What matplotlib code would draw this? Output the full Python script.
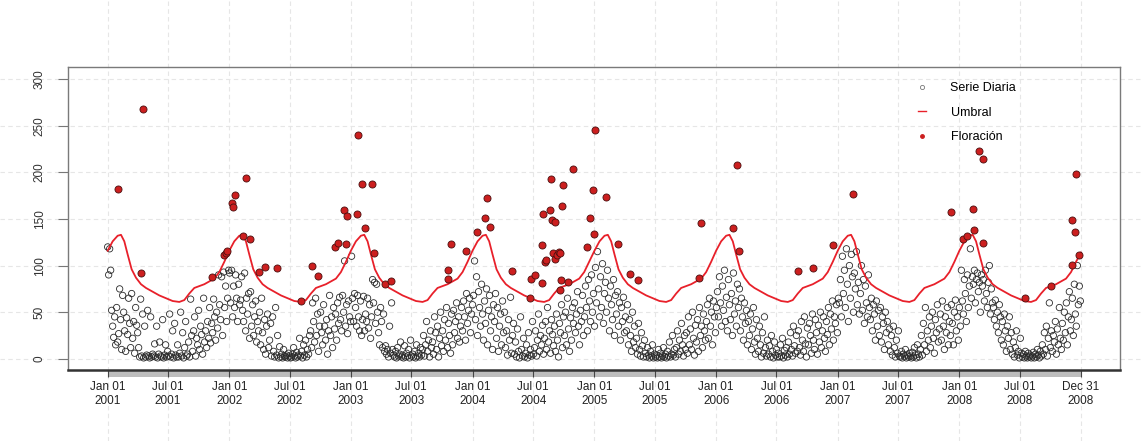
import matplotlib
matplotlib.use('Agg')
import matplotlib.pyplot as plt
import matplotlib.dates as mdates
import matplotlib.transforms as mtransforms
from matplotlib.lines import Line2D
from matplotlib.patches import Rectangle
import pandas as pd

plt.rcParams['font.family'] = ['Liberation Sans', 'DejaVu Sans']

# serie diaria, un valor cada 3 dias (leido a ojo del grafico)
serie_2001 = [120, 90, 118, 95, 52, 35, 23, 45, 15, 55, 18,
              27, 75, 42, 10, 68, 50, 30, 8, 44, 26,
              65, 38, 12, 70, 22, 40, 6, 55, 36, 28,
              12, 2, 64, 3, 48, 1, 35, 2, 4, 52,
              3, 1, 45, 2, 5, 3, 16, 2, 35, 1,
              5, 18, 3, 2, 42, 1, 4, 15, 2, 8,
              3, 48, 2, 5, 30, 1, 38, 4, 2, 15,
              2, 6, 50, 3, 28, 1, 12, 40, 3, 5,
              18, 2, 64, 25, 8, 30, 45, 3, 22, 15,
              52, 10, 35, 26, 5, 65, 18, 30, 12, 40,
              22, 55, 17, 38, 28, 64, 45, 20, 50, 33,
              90, 58, 42, 88, 25, 93, 55, 78, 40, 65, 95]
serie_2002 = [92, 60, 95, 45, 78, 55, 90, 65, 40, 80, 58,
              63, 88, 52, 40, 92, 30, 65, 48, 70, 22,
              72, 35, 58, 25, 45, 62, 18, 40, 30, 50,
              15, 65, 28, 10, 42, 5, 35, 48, 12, 20,
              38, 3, 45, 8, 2, 55, 4, 25, 1, 13,
              2, 5, 1, 10, 3, 2, 4, 1, 6, 3,
              1, 2, 5, 12, 3, 1, 7, 2, 4, 22,
              3, 8, 1, 15, 4, 20, 2, 10, 5, 25,
              30, 12, 60, 40, 18, 65, 25, 48, 8, 35,
              50, 28, 15, 58, 35, 20, 42, 5, 30, 68,
              25, 45, 12, 55, 32, 48, 20, 60, 38, 66,
              42, 30, 68, 50, 105, 35, 58, 27, 62, 45, 40]
serie_2003 = [110, 65, 40, 70, 55, 35, 68, 45, 30, 62, 25,
              42, 67, 30, 48, 40, 65, 33, 58, 22, 45,
              85, 60, 82, 38, 80, 50, 28, 15, 55, 40,
              12, 48, 8, 14, 5, 10, 2, 35, 6, 60,
              10, 4, 2, 8, 1, 12, 3, 5, 18, 2,
              4, 1, 14, 2, 6, 3, 10, 1, 20, 3,
              5, 2, 8, 1, 15, 3, 6, 2, 12, 4,
              10, 25, 3, 15, 40, 8, 20, 2, 30, 12,
              18, 5, 45, 28, 10, 35, 2, 22, 50, 14,
              30, 8, 42, 20, 55, 12, 38, 25, 6, 48,
              15, 52, 28, 40, 60, 22, 45, 18, 35, 55,
              30, 62, 45, 20, 70, 38, 52, 65, 28, 48, 58]
serie_2004 = [68, 105, 42, 88, 25, 72, 55, 35, 80, 48, 20,
              62, 38, 75, 15, 52, 68, 30, 45, 10, 58,
              40, 70, 22, 55, 8, 35, 48, 15, 62, 28,
              50, 12, 30, 4, 42, 20, 66, 6, 25, 38,
              5, 18, 2, 32, 8, 1, 45, 10, 3, 22,
              2, 6, 15, 1, 28, 4, 10, 3, 40, 5,
              12, 30, 3, 20, 48, 8, 25, 15, 36, 5,
              22, 40, 10, 55, 18, 30, 6, 42, 26, 14,
              35, 8, 48, 20, 2, 38, 28, 58, 12, 45,
              25, 50, 15, 65, 32, 8, 44, 20, 55, 38,
              60, 28, 48, 72, 35, 15, 52, 40, 68, 25,
              45, 78, 55, 30, 85, 62, 40, 90, 50, 70, 35]
serie_2005 = [98, 60, 115, 75, 45, 88, 55, 102, 38, 70, 82,
              50, 95, 65, 30, 78, 58, 42, 85, 25, 68,
              48, 72, 35, 60, 20, 55, 40, 66, 28, 45,
              30, 58, 15, 42, 25, 8, 50, 18, 35, 12,
              22, 5, 38, 10, 3, 28, 14, 2, 20, 6,
              2, 12, 4, 1, 8, 3, 15, 1, 5, 2,
              4, 1, 10, 2, 6, 1, 3, 12, 2, 5,
              1, 8, 3, 18, 2, 5, 25, 4, 10, 2,
              12, 30, 5, 20, 8, 38, 15, 3, 25, 10,
              28, 6, 45, 15, 32, 10, 50, 22, 4, 36,
              18, 42, 8, 55, 25, 35, 12, 48, 30, 20,
              40, 58, 22, 65, 35, 50, 15, 62, 45, 28, 55]
serie_2006 = [72, 45, 88, 60, 35, 78, 52, 95, 40, 66, 30,
              85, 58, 42, 70, 25, 92, 48, 62, 35, 80,
              55, 75, 30, 65, 45, 20, 60, 38, 52, 15,
              40, 25, 48, 10, 32, 55, 18, 5, 42, 22,
              8, 35, 15, 2, 28, 6, 45, 12, 3, 20,
              5, 14, 2, 25, 8, 1, 18, 4, 10, 2,
              6, 2, 15, 3, 22, 1, 9, 4, 12, 2,
              18, 5, 28, 10, 3, 35, 14, 6, 25, 8,
              30, 12, 4, 40, 20, 8, 45, 16, 2, 33,
              15, 38, 25, 6, 48, 20, 10, 42, 28, 5,
              36, 18, 50, 12, 30, 45, 22, 8, 40, 26,
              55, 15, 48, 32, 62, 20, 45, 38, 58, 28, 65]
serie_2007 = [60, 85, 45, 110, 70, 95, 55, 118, 80, 40, 100,
              65, 112, 88, 50, 92, 75, 115, 58, 82, 48,
              70, 100, 52, 85, 38, 78, 60, 45, 90, 55,
              42, 65, 30, 58, 48, 20, 62, 35, 52, 25,
              55, 18, 45, 38, 10, 50, 28, 40, 15, 32,
              8, 25, 4, 35, 12, 2, 20, 6, 30, 3,
              2, 8, 1, 5, 3, 10, 1, 4, 2, 6,
              3, 1, 7, 2, 12, 4, 1, 15, 5, 2,
              10, 25, 4, 38, 15, 55, 8, 30, 20, 45,
              12, 35, 50, 22, 6, 42, 28, 58, 18, 32,
              48, 20, 62, 35, 10, 45, 28, 55, 15, 40,
              25, 58, 38, 15, 50, 63, 30, 45, 20, 55, 35]
serie_2008 = [95, 62, 48, 85, 70, 40, 90, 55, 78, 118, 65,
              88, 80, 95, 60, 85, 92, 72, 82, 50, 90,
              78, 85, 62, 95, 70, 55, 82, 100, 48, 75,
              60, 55, 42, 63, 35, 50, 28, 58, 45, 20,
              40, 15, 48, 30, 8, 35, 22, 45, 10, 28,
              5, 18, 2, 12, 30, 4, 8, 1, 22, 6,
              2, 5, 1, 8, 3, 1, 6, 2, 4, 1,
              3, 7, 1, 5, 2, 10, 4, 1, 8, 3,
              15, 5, 28, 10, 35, 3, 22, 60, 12, 30,
              8, 25, 18, 40, 5, 32, 15, 55, 22, 10,
              38, 20, 50, 28, 60, 15, 45, 72, 30, 42,
              65, 25, 80, 48, 35, 100, 58, 78, 62]

# umbral climatologico: dia del anio -> valor
umbral_doy = [0, 15, 30, 40, 50, 60, 72, 85, 100, 115, 135, 155, 175,
              195, 215, 230, 245, 260, 275, 290, 305, 320, 335, 350, 365]
umbral_val = [116, 126, 132, 133, 126, 112, 96, 87, 80, 76, 72, 68, 65,
              62, 61, 63, 70, 76, 78, 80, 83, 86, 93, 104, 114]

floracion_fechas = ['2001-02-01', '2001-04-11', '2001-04-18', '2001-11-10', '2001-12-15',
                    '2001-12-22', '2001-12-26', '2002-01-10', '2002-01-11', '2002-01-18',
                    '2002-02-11', '2002-02-21', '2002-03-05', '2002-04-01', '2002-04-19',
                    '2002-05-24', '2002-08-04', '2002-09-06', '2002-09-23', '2002-11-13',
                    '2002-11-22', '2002-12-10', '2002-12-17', '2002-12-19', '2003-01-18',
                    '2003-01-21', '2003-02-03', '2003-02-13', '2003-03-05', '2003-03-11',
                    '2003-04-13', '2003-05-02', '2003-10-18', '2003-10-20', '2003-10-27',
                    '2003-12-12', '2004-01-15', '2004-02-08', '2004-02-12', '2004-02-23',
                    '2004-04-28', '2004-06-22', '2004-06-24', '2004-07-06', '2004-07-26',
                    '2004-07-27', '2004-07-31', '2004-08-05', '2004-08-07', '2004-08-19',
                    '2004-08-23', '2004-08-26', '2004-08-29', '2004-09-03', '2004-09-05',
                    '2004-09-09', '2004-09-16', '2004-09-19', '2004-09-20', '2004-09-23',
                    '2004-09-25', '2004-09-28', '2004-10-13', '2004-10-28', '2004-12-09',
                    '2004-12-17', '2004-12-27', '2005-01-01', '2005-01-04', '2005-02-05',
                    '2005-03-14', '2005-04-18', '2005-05-11', '2005-11-10', '2005-11-16',
                    '2006-02-20', '2006-03-05', '2006-03-10', '2006-09-03', '2006-10-18',
                    '2006-12-19', '2007-02-15', '2007-12-06', '2008-01-11', '2008-01-24',
                    '2008-02-10', '2008-02-15', '2008-02-28', '2008-03-11', '2008-03-12',
                    '2008-07-17', '2008-10-03', '2008-12-04', '2008-12-05', '2008-12-12',
                    '2008-12-17', '2008-12-24']
floracion_valores = [182, 92, 268, 88, 111,
                     114, 116, 167, 163, 176,
                     132, 194, 128, 93, 98,
                     97, 62, 100, 89, 120,
                     124, 160, 123, 153, 155,
                     240, 188, 140, 188, 114,
                     80, 83, 86, 95, 123,
                     116, 136, 151, 172, 141,
                     94, 65, 86, 90, 81,
                     122, 155, 104, 106, 160,
                     193, 149, 114, 147, 107,
                     111, 115, 114, 74, 85,
                     164, 186, 82, 204, 120,
                     151, 181, 134, 245, 174,
                     123, 91, 84, 87, 146,
                     140, 208, 116, 94, 97,
                     122, 177, 158, 129, 132,
                     161, 138, 223, 214, 124,
                     65, 78, 149, 101, 136,
                     198, 111]

tick_fechas = ['2001-01-01', '2001-07-01', '2002-01-01', '2002-07-01', '2003-01-01',
               '2003-07-01', '2004-01-01', '2004-07-01', '2005-01-01', '2005-07-01',
               '2006-01-01', '2006-07-01', '2007-01-01', '2007-07-01', '2008-01-01',
               '2008-07-01', '2008-12-31']
y_ticks = [0, 50, 100, 150, 200, 250, 300]

GRID = '#e6e6e6'


def build_serie():
    valores = (serie_2001 + serie_2002 + serie_2003 + serie_2004 +
               serie_2005 + serie_2006 + serie_2007 + serie_2008)
    fechas = pd.date_range('2001-01-01', periods=len(valores), freq='3D')
    return pd.Series(valores, index=fechas)


def build_umbral():
    fechas = []
    valores = []
    for year in range(2001, 2009):
        inicio = pd.Timestamp(year=year, month=1, day=1)
        for doy, val in zip(umbral_doy, umbral_val):
            if doy == 365 and year != 2008:
                continue
            fechas.append(inicio + pd.Timedelta(days=doy))
            valores.append(val)
    return pd.Series(valores, index=pd.DatetimeIndex(fechas))


def main():
    serie = build_serie()
    umbral = build_umbral()
    flor = pd.Series(floracion_valores, index=pd.to_datetime(floracion_fechas))
    ticks = pd.to_datetime(tick_fechas)

    fig = plt.figure(figsize=(11.42, 4.41), dpi=100)
    ax = fig.add_axes([68 / 1142, 71 / 441, 1052 / 1142, 303 / 441])

    start, end = ticks[0], ticks[-1]
    ax.set_xlim(start - pd.Timedelta(days=119), end + pd.Timedelta(days=117))
    ax.set_ylim(-12, 313)

    # grid that runs past the panel, as in xts plots
    for t in ticks:
        ax.axvline(t, ymin=-0.234, ymax=1.22, clip_on=False, color=GRID,
                   lw=0.8, ls=(0, (4, 3)), zorder=0)
    for v in y_ticks:
        ax.axhline(v, xmin=-0.065, xmax=1.021, clip_on=False, color=GRID,
                   lw=0.8, ls=(0, (4, 3)), zorder=0)

    ax.scatter(serie.index, serie.values, s=21, facecolors='none',
               edgecolors='#2a2a2a', linewidths=0.6, zorder=2)
    ax.plot(umbral.index, umbral.values, color='#e8202a', lw=1.3, zorder=3)
    ax.scatter(flor.index, flor.values, s=26, facecolors='#cc1f1f',
               edgecolors='#4a1010', linewidths=0.6, zorder=4)

    # gray time bar under the panel
    trans = mtransforms.blended_transform_factory(ax.transData, ax.transAxes)
    x0 = mdates.date2num(start)
    x1 = mdates.date2num(end)
    ax.add_patch(Rectangle((x0, -7 / 303), x1 - x0, 7 / 303, transform=trans,
                           clip_on=False, facecolor='#bdbdbd', edgecolor='none',
                           zorder=1))

    ax.set_xticks(ticks)
    ax.set_xticklabels([t.strftime('%b %d\n%Y') for t in ticks],
                       fontsize=8.5, color='#222222', linespacing=1.25)
    ax.tick_params(axis='x', length=5, width=0.8, color='#444444', pad=3)
    ax.set_yticks(y_ticks)
    ax.set_yticklabels([str(v) for v in y_ticks], rotation=90, va='center',
                       fontsize=8.5, color='#333333')
    ax.tick_params(axis='y', length=7, width=0.8, color='#777777', pad=9)

    for side in ['top', 'left', 'right']:
        ax.spines[side].set_color('#7a7a7a')
        ax.spines[side].set_linewidth(1.0)
    ax.spines['bottom'].set_color('#333333')
    ax.spines['bottom'].set_linewidth(1.8)

    handles = [
        Line2D([], [], marker='o', ls='none', mfc='none', mec='#777777', ms=3, mew=0.6),
        Line2D([], [], color='#e8202a', lw=1.0),
        Line2D([], [], marker='o', ls='none', mfc='#cc1f1f', mec='#cc1f1f', ms=2.5),
    ]
    ax.legend(handles, ['Serie Diaria', 'Umbral', 'Floración'], loc='upper left',
              bbox_to_anchor=(918 / 1142, 1 - 82 / 441), bbox_transform=fig.transFigure,
              frameon=False, fontsize=9, handlelength=0.6, handletextpad=2.0,
              labelspacing=1.0, borderpad=0, borderaxespad=0)

    fig.savefig('out.png', dpi=100)
    plt.close(fig)


if __name__ == '__main__':
    main()
